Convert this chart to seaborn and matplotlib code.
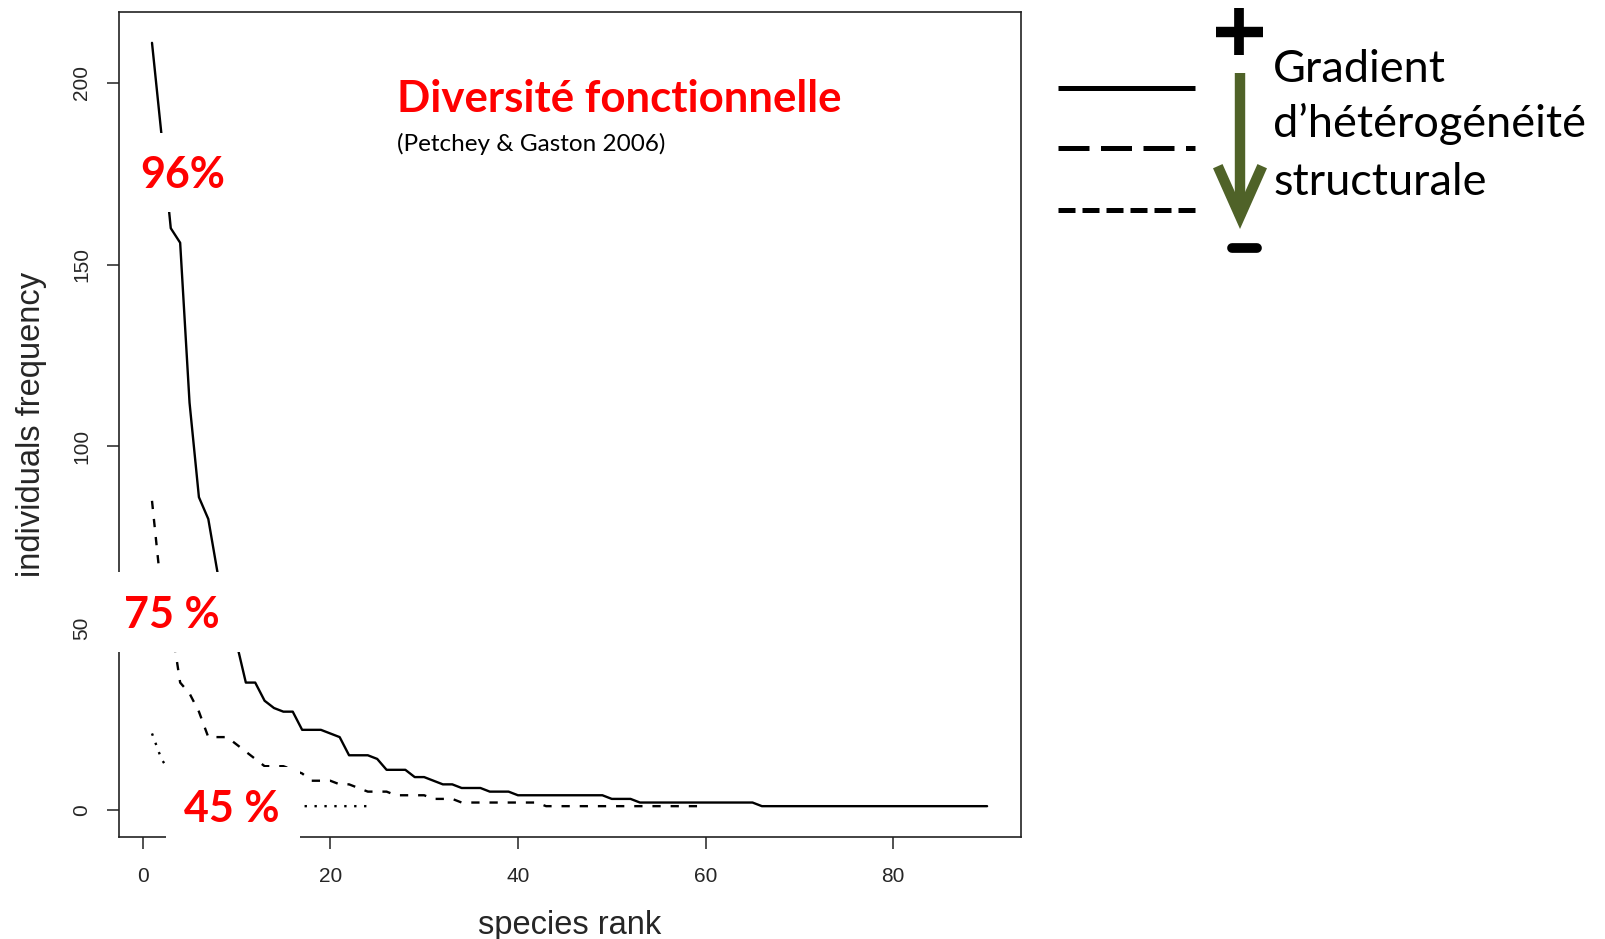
"""
Rank-abundance curves with the functional diversity annotation
"""

import matplotlib.pyplot as plt
import seaborn as sns
import pandas as pd
import numpy as np
from matplotlib.lines import Line2D
from matplotlib.patches import Rectangle, FancyArrowPatch

# species frequencies by rank, one list per site
solid_freq = [211, 186, 160, 156, 112, 86, 80, 65, 55, 46,
              35, 35, 30, 28, 27, 27, 22, 22, 22, 21,
              20, 15, 15, 15, 14, 11, 11, 11, 9, 9,
              8, 7, 7, 6, 6, 6, 5, 5, 5] + [4] * 10 + [3] * 3 + [2] * 13 + [1] * 25
dashed_freq = [85, 60, 52, 35, 32, 27, 20, 20, 20, 18,
               16, 14, 12, 12, 12, 11, 10, 8, 8, 8,
               7, 7, 6, 5, 5, 5, 4, 4, 4, 4,
               3, 3, 3] + [2] * 9 + [1] * 18
dotted_freq = [21, 14, 10, 7, 5, 4, 3, 3, 3, 2,
               2, 2, 2, 2, 2, 1, 1, 1, 1, 1,
               1, 1, 1, 1]

x_ticks = [0, 20, 40, 60, 80]
y_ticks = [0, 50, 100, 150, 200]
pct_labels = ["96%", "75 %", "45 %"]
gradient_lines = ["Gradient", "d\u2019h\u00e9t\u00e9rog\u00e9n\u00e9it\u00e9", "structurale"]

W, H = 1605, 939


def fx(px):
    return px / W


def fy(py):
    return 1 - py / H


# long table for seaborn
frames = []
for name, vals in [("solid", solid_freq), ("dashed", dashed_freq), ("dotted", dotted_freq)]:
    frames.append(pd.DataFrame({"rank": np.arange(1, len(vals) + 1), "freq": vals, "site": name}))
df = pd.concat(frames, ignore_index=True)

sns.set_theme(style="ticks")
plt.rcParams["font.family"] = ["Liberation Sans", "DejaVu Sans"]

fig = plt.figure(figsize=(W / 100, H / 100), dpi=100)
ax = fig.add_axes([fx(118.6), fy(836.7), fx(1020.5) - fx(118.6), fy(12.3) - fy(836.7)])

sns.lineplot(data=df, x="rank", y="freq", style="site", color="black",
             dashes={"solid": "", "dashed": (3.5, 4.2), "dotted": (1, 3.2)},
             linewidth=1.7, errorbar=None, legend=False, ax=ax)

# R style 4% padding
xmin, xmax = df["rank"].min(), df["rank"].max()
ymin, ymax = df["freq"].min(), df["freq"].max()
ax.set_xlim(xmin - 0.04 * (xmax - xmin), xmax + 0.04 * (xmax - xmin))
ax.set_ylim(ymin - 0.04 * (ymax - ymin), ymax + 0.04 * (ymax - ymin))
ax.set_xticks(x_ticks)
ax.set_yticks(y_ticks)
ax.tick_params(length=8.9, width=1.1, color="#222222", labelsize=15)
ax.tick_params(axis="x", pad=13)
ax.tick_params(axis="y", pad=11)
for lab in ax.get_yticklabels():
    lab.set_rotation(90)
    lab.set_va("center")
for sp in ax.spines.values():
    sp.set_visible(True)
    sp.set_linewidth(1.2)
    sp.set_color("#222222")
ax.set_xlabel("species rank", fontsize=23.5, labelpad=17)
ax.set_ylabel("individuals frequency", fontsize=23.5, labelpad=18)

# white label boxes that hide parts of the plot
for (x0, y0, x1, y1) in [(128, 133, 232, 212), (106, 572, 240, 652), (166, 767, 300, 850)]:
    fig.patches.append(Rectangle((fx(x0), fy(y1)), fx(x1) - fx(x0), fy(y0) - fy(y1),
                                 transform=fig.transFigure, facecolor="white",
                                 edgecolor="none", zorder=5))

lab_font = ["Lato", "DejaVu Sans"]
for txt, (px, py) in zip(pct_labels, [(140, 188), (124, 628), (184, 822)]):
    fig.text(fx(px), fy(py), txt, color="#FF0000", fontsize=31, fontweight="bold",
             family=lab_font, ha="left", va="baseline", zorder=6)

fig.text(fx(397), fy(112), "Diversit\u00e9 fonctionnelle", color="#FF0000", fontsize=31.5,
         fontweight="bold", family=lab_font, ha="left", va="baseline", zorder=6)
fig.text(fx(397), fy(151), "(Petchey & Gaston 2006)", color="black", fontsize=17.5,
         family=lab_font, ha="left", va="baseline", zorder=6)

# legend-like line samples on the right
fig.add_artist(Line2D([fx(1058), fx(1195)], [fy(88), fy(88)], color="black", lw=3.6,
                      solid_capstyle="butt", transform=fig.transFigure))
fig.add_artist(Line2D([fx(1058), fx(1195)], [fy(148), fy(148)], color="black", lw=3.6,
                      dashes=(6.2, 2.3), dash_capstyle="butt", transform=fig.transFigure))
fig.add_artist(Line2D([fx(1058), fx(1195)], [fy(210), fy(210)], color="black", lw=3.6,
                      dashes=(3.4, 1.4), dash_capstyle="butt", transform=fig.transFigure))

# plus and minus signs
fig.add_artist(Line2D([fx(1216), fx(1263)], [fy(32), fy(32)], color="black", lw=7.5,
                      solid_capstyle="butt", transform=fig.transFigure))
fig.add_artist(Line2D([fx(1239), fx(1239)], [fy(8), fy(55)], color="black", lw=7,
                      solid_capstyle="butt", transform=fig.transFigure))
fig.add_artist(Line2D([fx(1232), fx(1257)], [fy(247.5), fy(247.5)], color="black", lw=7,
                      solid_capstyle="round", transform=fig.transFigure))

# green gradient arrow
arrow = FancyArrowPatch((fx(1240), fy(73)), (fx(1240), fy(229)),
                        transform=fig.transFigure, color="#4F6228", lw=7.5,
                        arrowstyle="->,head_length=3.6,head_width=1.6",
                        mutation_scale=10, shrinkA=0, shrinkB=0,
                        capstyle="butt", joinstyle="miter")
fig.add_artist(arrow)

for txt, py in zip(gradient_lines, [82, 137, 195]):
    fig.text(fx(1273), fy(py), txt, color="black", fontsize=32.5, family=lab_font,
             ha="left", va="baseline")

plt.savefig("out.png", dpi=100)
